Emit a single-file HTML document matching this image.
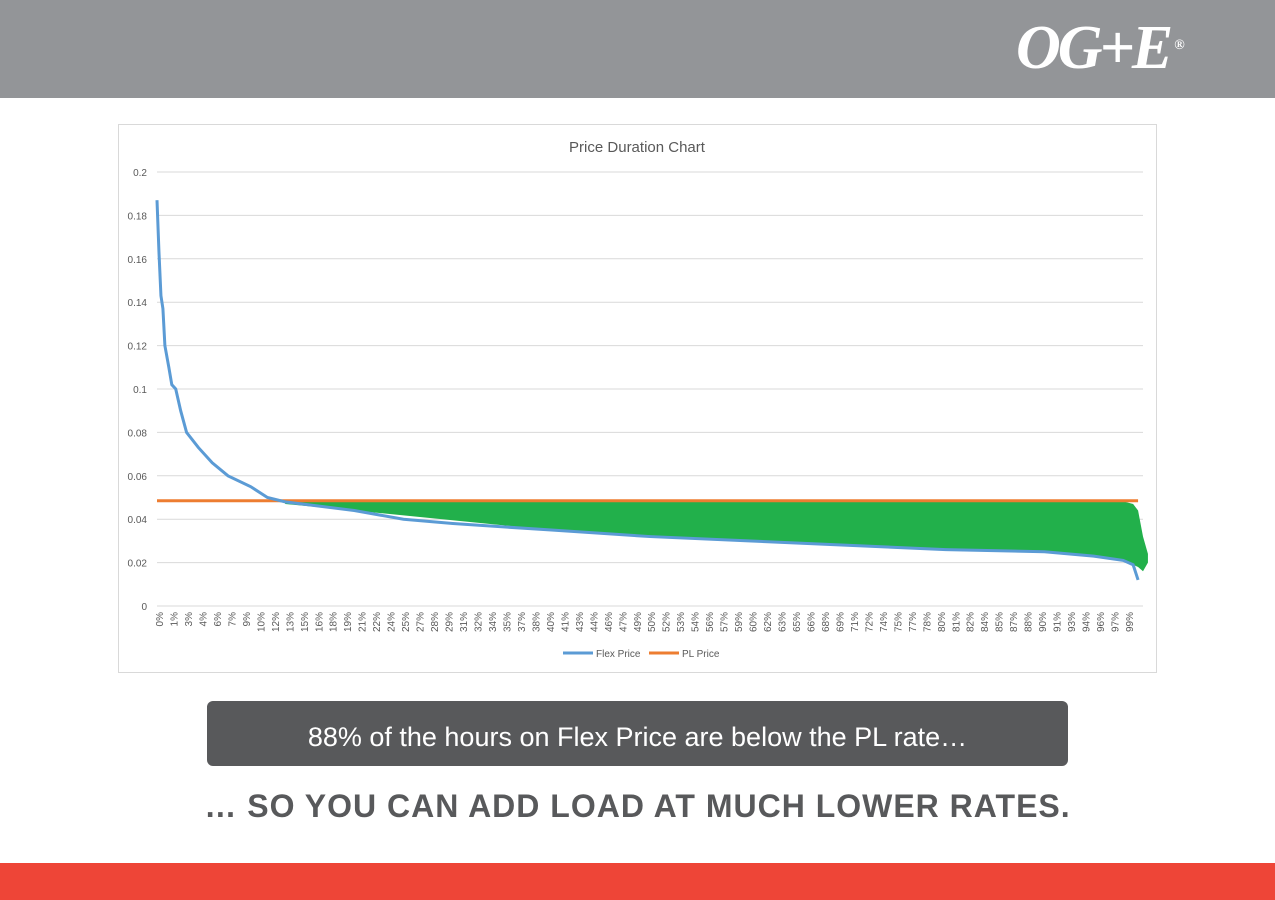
<!DOCTYPE html>
<html><head><meta charset="utf-8"><style>
body{margin:0;width:1275px;height:900px;position:relative;background:#fff;font-family:"Liberation Sans",sans-serif;overflow:hidden}
.hdr{position:absolute;left:0;top:0;width:1275px;height:98px;background:#939598}
.logo{position:absolute;left:1016px;top:18px;color:#fff;font-family:"Liberation Serif",serif;font-style:italic;font-weight:bold;font-size:62px;letter-spacing:-3px;line-height:60px}
.logo sup{font-size:14px;font-style:normal;vertical-align:top;position:relative;top:-2px;margin-left:4px}
.cap{position:absolute;left:207px;top:701px;width:861px;height:65px;background:#58595b;border-radius:6px;color:#fff;font-size:27px;line-height:72px;text-align:center}
.big{position:absolute;left:0;width:1275px;top:788px;text-align:center;color:#58595b;font-weight:bold;font-size:32px;letter-spacing:1px}
.foot{position:absolute;left:0;top:863px;width:1275px;height:37px;background:#ee4537}
</style></head><body>
<div class="hdr"><div class="logo">OG+E<sup>®</sup></div></div>
<svg id="chart" width="1275" height="900" style="position:absolute;left:0;top:0"></svg>
<div class="cap">88% of the hours on Flex Price are below the PL rate…</div>
<div class="big">… SO YOU CAN ADD LOAD AT MUCH LOWER RATES.</div>
<div class="foot"></div>
<script>
const yTicks=[0,0.02,0.04,0.06,0.08,0.1,0.12,0.14,0.16,0.18,0.2];
const xLabels=[0,1,3,4,6,7,9,10,12,13,15,16,18,19,21,22,24,25,27,28,29,31,32,34,35,37,38,40,41,43,44,46,47,49,50,52,53,54,56,57,59,60,62,63,65,66,68,69,71,72,74,75,77,78,80,81,82,84,85,87,88,90,91,93,94,96,97,99];
const flexX=[0,0.002,0.004,0.006,0.008,0.012,0.015,0.019,0.024,0.03,0.042,0.056,0.072,0.095,0.112,0.13,0.2,0.25,0.3,0.4,0.5,0.6,0.7,0.8,0.9,0.95,0.98,0.99,0.995];
const flexY=[0.187,0.163,0.143,0.137,0.12,0.11,0.102,0.1,0.09,0.08,0.073,0.066,0.06,0.055,0.05,0.048,0.044,0.040,0.038,0.035,0.032,0.030,0.028,0.026,0.025,0.023,0.021,0.019,0.012];
const plPrice=0.0485;
const greenX=[0.13,0.2,0.4,0.6,0.8,0.9,0.98,0.99,0.995,1.0,1.005];
const greenTop=[0.0482,0.0482,0.0482,0.0482,0.0482,0.0482,0.0482,0.047,0.044,0.032,0.024];
const greenBot=[0.047,0.044,0.035,0.030,0.026,0.025,0.021,0.019,0.018,0.016,0.020];
const svg=document.getElementById('chart');const NS='http://www.w3.org/2000/svg';
const L=157,R=1143,T=172,B=606;
const xs=f=>L+f*(R-L), ys=v=>B-v/0.2*(B-T);
function mk(t,a,txt){const e=document.createElementNS(NS,t);for(const k in a)e.setAttribute(k,a[k]);if(txt!==undefined)e.textContent=txt;svg.appendChild(e);return e;}
let e=mk('rect',{x:118.5,y:124.5,width:1038,height:548,fill:'#fff',stroke:'#d9d9d9'});

e=mk('text',{x:637,y:152,'text-anchor':'middle','font-size':15,fill:'#595959','font-family':'Liberation Sans'},'Price Duration Chart');

yTicks.forEach(v=>{const y=ys(v);
 e=mk('line',{x1:L,x2:R,y1:y,y2:y,stroke:'#d9d9d9','stroke-width':1});
 
 e=mk('text',{x:147,y:y+4,'text-anchor':'end','font-size':10,fill:'#595959'},String(v));
 });
xLabels.forEach((p,i)=>{const x=L+2+i*(R-L-16)/(xLabels.length-1);
 e=mk('text',{x:x+4,y:612,'text-anchor':'end','font-size':10,fill:'#595959',transform:`rotate(-90 ${x+4} 612)`},p+'%');
 });
let gp=greenX.map((f,i)=>xs(f)+','+ys(greenTop[i])).join(' ')+' '+greenX.map((f,i)=>xs(f)+','+ys(greenBot[i])).reverse().join(' ');
e=mk('polygon',{points:gp,fill:'#22b04b'});

e=mk('line',{x1:L,x2:xs(0.995),y1:ys(plPrice),y2:ys(plPrice),stroke:'#ed7d31','stroke-width':3});

e=mk('polyline',{points:flexX.map((f,i)=>xs(f)+','+ys(flexY[i])).join(' '),fill:'none',stroke:'#5b9bd5','stroke-width':3});

e=mk('line',{x1:563,x2:593,y1:653,y2:653,stroke:'#5b9bd5','stroke-width':3});

e=mk('text',{x:596,y:657,'font-size':10,fill:'#595959'},'Flex Price');

e=mk('line',{x1:649,x2:679,y1:653,y2:653,stroke:'#ed7d31','stroke-width':3});

e=mk('text',{x:682,y:657,'font-size':10,fill:'#595959'},'PL Price');

</script>
</body></html>
